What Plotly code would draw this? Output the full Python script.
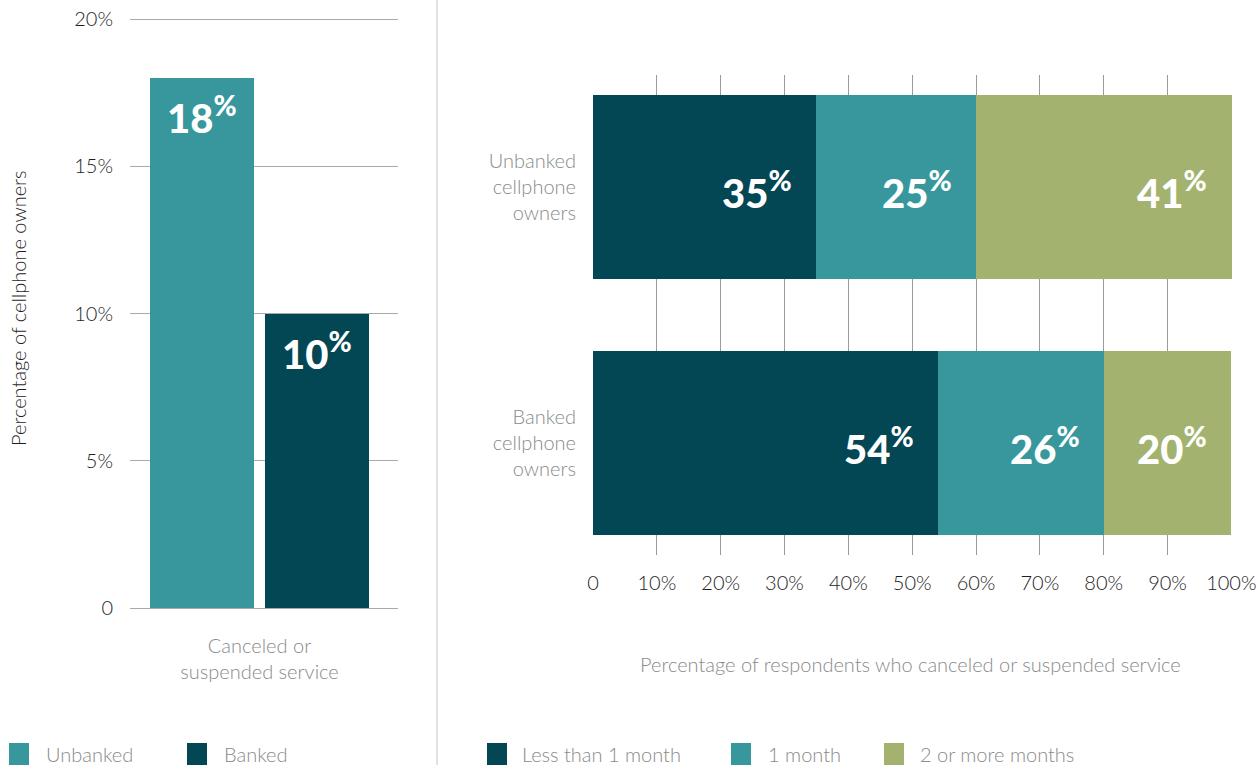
import plotly.graph_objects as go

# ---- data -------------------------------------------------------------
# Left panel: share of cellphone owners who canceled or suspended service
groups_left = ["Unbanked", "Banked"]
share_left = [18, 10]
left_category = "Canceled or<br>suspended service"
left_ticks = [0, 5, 10, 15, 20]
left_ticktext = ["0", "5%", "10%", "15%", "20%"]

# Right panel: how long service was canceled or suspended
respondents = ["Banked<br>cellphone<br>owners", "Unbanked<br>cellphone<br>owners"]
durations = ["Less than 1 month", "1 month", "2 or more months"]
duration_shares = {
    "Less than 1 month": [54, 35],
    "1 month": [26, 25],
    "2 or more months": [20, 41],
}
right_ticks = [0, 10, 20, 30, 40, 50, 60, 70, 80, 90, 100]
right_ticktext = ["0", "10%", "20%", "30%", "40%", "50%", "60%", "70%", "80%", "90%", "100%"]

# ---- styling ----------------------------------------------------------
W, H = 1260, 765
TEAL = "#37979c"
DARK = "#034654"
OLIVE = "#a3b36f"
group_colors = {"Unbanked": TEAL, "Banked": DARK}
duration_colors = {"Less than 1 month": DARK, "1 month": TEAL, "2 or more months": OLIVE}
FONT = "Lato"
GREY_TXT = "#8a8a8a"
DARK_TXT = "#1e1e1e"
TXT_SIZE = 20
GREY_FONT = dict(family=FONT, size=TXT_SIZE, color=GREY_TXT, weight=300)
DARK_FONT = dict(family=FONT, size=TXT_SIZE, color=DARK_TXT, weight=300)
LABEL_FONT = dict(family=FONT, size=40, color="white", weight=900)


def px_x(p):
    return p / W


def px_y(p):
    return 1 - p / H


fig = go.Figure()

# Left panel bars (one position per group)
for i, (g, v) in enumerate(zip(groups_left, share_left)):
    fig.add_trace(go.Bar(
        x=[i], y=[v], name=g, width=0.904,
        marker=dict(color=group_colors[g], line=dict(width=0)),
        xaxis="x", yaxis="y", showlegend=False, hoverinfo="skip",
    ))

# Right panel stacked bars
for d in durations:
    fig.add_trace(go.Bar(
        y=respondents, x=duration_shares[d], name=d, orientation="h",
        marker=dict(color=duration_colors[d], line=dict(width=0)),
        xaxis="x2", yaxis="y2", showlegend=False, hoverinfo="skip",
    ))

annotations = []

# value labels, left panel
for i, v in enumerate(share_left):
    annotations.append(dict(
        x=i, y=v, xref="x", yref="y", text=f"{v}<sup>%</sup>",
        showarrow=False, yshift=-37, xanchor="center", yanchor="middle",
        font=LABEL_FONT,
    ))

# value labels, right panel (right-aligned at each segment end)
for j, r in enumerate(respondents):
    cum = 0
    for d in durations:
        v = duration_shares[d][j]
        cum += v
        annotations.append(dict(
            x=min(cum, 100), y=r, xref="x2", yref="y2", text=f"{v}<sup>%</sup>",
            showarrow=False, xshift=-22, yshift=-3, xanchor="right", yanchor="middle",
            font=LABEL_FONT,
        ))

# axis titles
annotations.append(dict(
    x=px_x(18), y=px_y(308), xref="paper", yref="paper", textangle=-90,
    xanchor="center", yanchor="middle",
    text="Percentage of cellphone owners", showarrow=False,
    font=DARK_FONT,
))
annotations.append(dict(
    x=px_x(910), y=px_y(664), xref="paper", yref="paper",
    xanchor="center", yanchor="middle",
    text="Percentage of respondents who canceled or suspended service", showarrow=False,
    font=GREY_FONT,
))

# legends (swatch + label)
shapes = []
legend_items = [
    ("Unbanked", TEAL, 9, 44),
    ("Banked", DARK, 187, 222),
    ("Less than 1 month", DARK, 487, 520),
    ("1 month", TEAL, 731, 766),
    ("2 or more months", OLIVE, 884, 918),
]
for label, col, sx, tx in legend_items:
    shapes.append(dict(
        type="rect", xref="paper", yref="paper",
        x0=px_x(sx), x1=px_x(sx + 20), y0=px_y(766), y1=px_y(743),
        fillcolor=col, line=dict(width=0),
    ))
    annotations.append(dict(
        x=px_x(tx), y=px_y(754), xref="paper", yref="paper", text=label,
        showarrow=False, xanchor="left", yanchor="middle",
        font=GREY_FONT,
    ))

# divider between panels
shapes.append(dict(
    type="line", xref="paper", yref="paper",
    x0=px_x(437), x1=px_x(437), y0=0, y1=1,
    line=dict(color="#e2e2e2", width=2),
))

fig.update_layout(
    width=W, height=H,
    margin=dict(l=0, r=0, t=0, b=0, autoexpand=False),
    paper_bgcolor="white", plot_bgcolor="white",
    barmode="stack", bargap=0.281,
    font=dict(family=FONT, size=TXT_SIZE, color=DARK_TXT),
    xaxis=dict(
        domain=[px_x(130), px_x(398)], range=[-0.626, 1.704],
        tickmode="array", tickvals=[0.5], ticktext=[left_category],
        showgrid=False, zeroline=False, showline=False, ticks="",
        ticklabelstandoff=24, automargin=False,
        tickfont=GREY_FONT,
        fixedrange=True,
    ),
    yaxis=dict(
        domain=[px_y(608), px_y(18)], range=[0, 20.04],
        tickmode="array", tickvals=left_ticks, ticktext=left_ticktext,
        showgrid=True, gridcolor="#a9a9a9", gridwidth=1,
        zeroline=True, zerolinecolor="#a9a9a9", zerolinewidth=1,
        showline=False, ticks="", ticklabelstandoff=16, automargin=False,
        tickfont=DARK_FONT,
        fixedrange=True,
    ),
    xaxis2=dict(
        domain=[px_x(593), px_x(1232)], range=[0, 100.1], anchor="y2",
        tickmode="array", tickvals=right_ticks, ticktext=right_ticktext,
        showgrid=True, gridcolor="#9a9a9a", gridwidth=1,
        zeroline=False, showline=False, ticks="", ticklabelstandoff=14,
        automargin=False,
        tickfont=DARK_FONT,
        fixedrange=True,
    ),
    yaxis2=dict(
        domain=[px_y(555), px_y(75)], range=[-0.4375, 1.4375], anchor="x2",
        type="category", showgrid=False, zeroline=False, showline=False,
        ticks="", ticklabelstandoff=16, automargin=False,
        tickfont=GREY_FONT,
        fixedrange=True,
    ),
    annotations=annotations,
    shapes=shapes,
)

fig.write_html("out.html")
